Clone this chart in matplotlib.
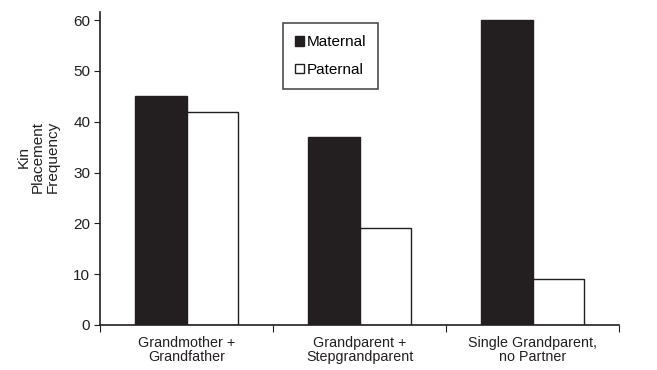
import matplotlib
matplotlib.use("Agg")
import matplotlib.pyplot as plt
import numpy as np

categories = ["Grandmother +\nGrandfather", "Grandparent +\nStepgrandparent", "Single Grandparent,\nno Partner"]
maternal = [45, 37, 60]
paternal = [42, 19, 9]
yticks = [0, 10, 20, 30, 40, 50, 60]

plt.rcParams['font.family'] = ['Liberation Sans', 'DejaVu Sans']

fig = plt.figure(figsize=(6.57, 3.70), dpi=100)
ax = fig.add_axes([100/657, 1-325/370, (619-100)/657, (325-12)/370])

x = np.arange(len(categories))
w = 0.295
ax.bar(x - w/2, maternal, w, color='#231f20', edgecolor='#231f20', linewidth=1, label='Maternal')
ax.bar(x + w/2, paternal, w, color='white', edgecolor='#231f20', linewidth=1, label='Paternal')

ax.set_xlim(-0.5, 2.5)
ax.set_ylim(0, 61.6)
ax.set_yticks(yticks)
ax.set_yticklabels([str(t) for t in yticks], fontsize=11, color='#231f20')
ax.set_xticks([-0.5, 0.5, 1.5, 2.5])
ax.set_xticklabels([])
ax.set_xticks(x, minor=True)
ax.set_xticklabels(categories, minor=True, fontsize=10.3, color='#231f20', linespacing=1.0)
ax.tick_params(axis='x', which='minor', length=0, pad=8)
ax.tick_params(axis='x', which='major', length=5, direction='out', color='#231f20')
ax.tick_params(axis='y', length=4, direction='out', color='#231f20', pad=3)

for s in ['top', 'right']:
    ax.spines[s].set_visible(False)
for s in ['left', 'bottom']:
    ax.spines[s].set_color('#231f20')
    ax.spines[s].set_linewidth(1.2)

fig.text(38/657, 1-157/370, "Kin\nPlacement\nFrequency", rotation=90, ha='center', va='center',
         multialignment='center', fontsize=11, color='#231f20', linespacing=1.05)

leg = ax.legend(loc='upper left', bbox_to_anchor=((283-100)/519, 1-(23-12)/313), frameon=True,
                fancybox=False, edgecolor='#231f20', fontsize=11, handlelength=0.6,
                handleheight=0.6, handletextpad=0.15, labelspacing=0.9, borderpad=0.8,
                borderaxespad=0)
leg.get_frame().set_linewidth(1.2)

fig.savefig("out.png", dpi=100)
